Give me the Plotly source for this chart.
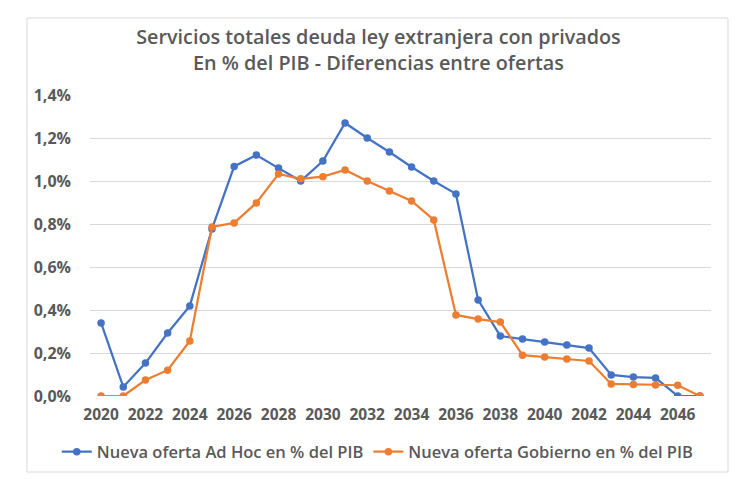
import plotly.graph_objects as go

years = list(range(2020, 2048))
ad_hoc = [0.340, 0.042, 0.153, 0.293, 0.419, 0.777, 1.068, 1.121, 1.060, 1.000,
          1.093, 1.270, 1.200, 1.135, 1.065, 1.000, 0.940, 0.447, 0.279, 0.265,
          0.251, 0.237, 0.223, 0.098, 0.088, 0.084, 0.000, 0.000]
gobierno = [0.000, 0.000, 0.074, 0.120, 0.256, 0.786, 0.805, 0.898, 1.033, 1.010,
            1.020, 1.051, 1.000, 0.953, 0.907, 0.819, 0.377, 0.358, 0.344, 0.190,
            0.181, 0.172, 0.163, 0.056, 0.054, 0.051, 0.050, 0.000]
x_ticks = list(range(2020, 2047, 2))
y_ticks = [0, 0.2, 0.4, 0.6, 0.8, 1.0, 1.2, 1.4]

names = ["Nueva oferta Ad Hoc en % del PIB", "Nueva oferta Gobierno en % del PIB"]
colors = ["#4472C4", "#ED7D31"]
FONT = "Open Sans"
GRAY = "#595959"

fig = go.Figure()
for vals, name, col in zip([ad_hoc, gobierno], names, colors):
    fig.add_trace(go.Scatter(
        x=years, y=[v / 100 for v in vals], name=name, mode="lines+markers",
        line=dict(color=col, width=2.25),
        marker=dict(color=col, size=7.5),
    ))

fig.update_layout(
    width=742, height=471,
    margin=dict(l=82, r=39, t=87, b=83, autoexpand=False),
    paper_bgcolor="white", plot_bgcolor="white",
    separators=",.",
    font=dict(family=FONT, color=GRAY),
    title=dict(
        text="Servicios totales deuda ley extranjera con privados<br>En % del PIB - Diferencias entre ofertas",
        x=0.4993, xanchor="center", y=0.923, yanchor="middle",
        font=dict(family=FONT, size=19.8, color=GRAY, weight=600),
    ),
    xaxis=dict(
        range=[2019.5, 2047.5], tickmode="array", tickvals=x_ticks,
        ticktext=[str(t) for t in x_ticks],
        showgrid=False, zeroline=False, showline=False, ticks="",
        ticklabelstandoff=7,
        tickfont=dict(family=FONT, size=15.5, color=GRAY, weight=700),
    ),
    yaxis=dict(
        range=[0, 1.4 / 100], tickmode="array", tickvals=[v / 100 for v in y_ticks],
        tickformat=".1%", showgrid=True, gridcolor="#D9D9D9", gridwidth=1,
        zeroline=False, showline=False, ticks="", ticklen=0,
        ticklabelstandoff=18,
        tickfont=dict(family=FONT, size=16, color=GRAY, weight=700),
    ),
    legend=dict(
        orientation="h", x=-0.0535, xanchor="left",
        y=-0.186, yanchor="middle",
        font=dict(family=FONT, size=16.5, color=GRAY, weight=600),
        itemwidth=30, tracegroupgap=0,
    ),
    showlegend=True,
)
fig.add_shape(type="rect", xref="paper", yref="paper",
              x0=(27 - 90) / 621, x1=(728 - 90) / 621,
              y0=(396 - 472) / 301, y1=(396 - 18) / 301,
              line=dict(color="#D9D9D9", width=1), fillcolor="rgba(0,0,0,0)", layer="below")

fig.write_html("out.html")
